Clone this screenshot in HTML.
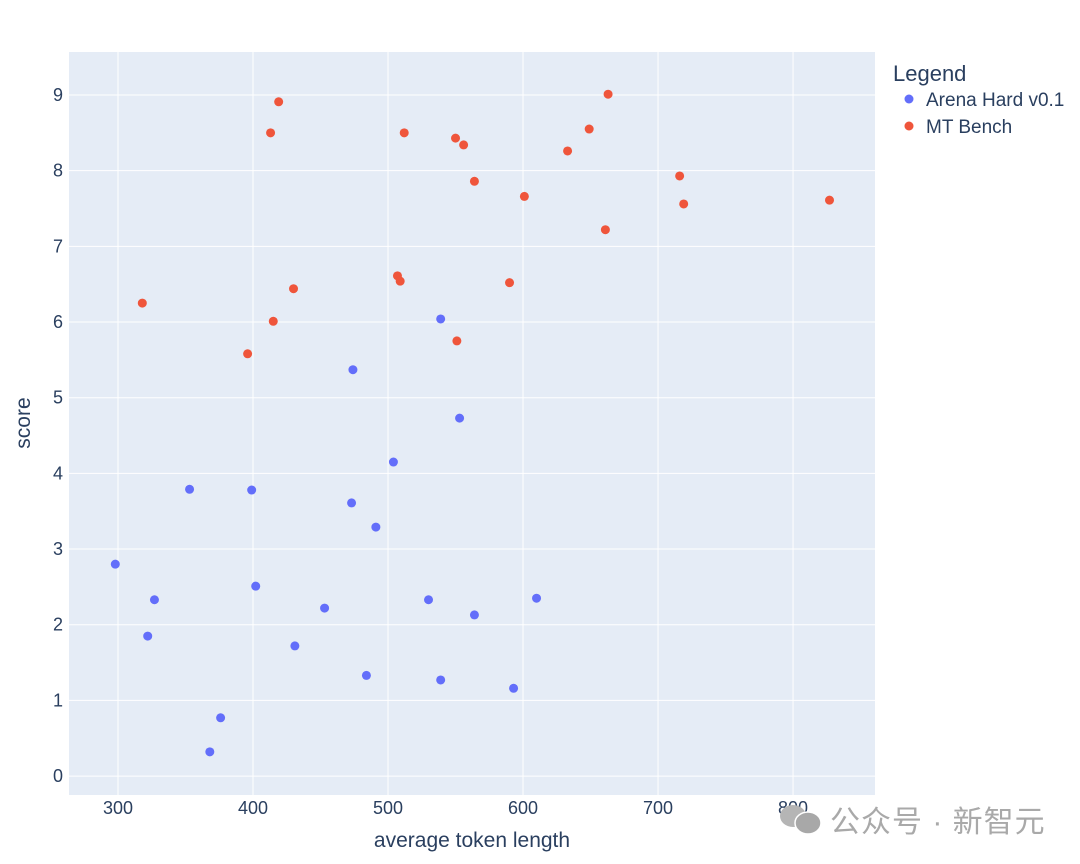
<!DOCTYPE html>
<html><head><meta charset="utf-8"><style>
body{margin:0;background:#fff;}
svg{display:block;font-family:"Liberation Sans","Noto Sans CJK SC",sans-serif;}
</style></head><body>
<svg id="chart" width="1080" height="864"></svg>
<script>
const blueX=[298,322,327,353,368,376,399,402,431,453,473,474,484,491,504,530,539,539,553,564,593,610];
const blueY=[2.80,1.85,2.33,3.79,0.32,0.77,3.78,2.51,1.72,2.22,3.61,5.37,1.33,3.29,4.15,2.33,6.04,1.27,4.73,2.13,1.16,2.35];
const redX=[318,396,413,415,419,430,507,509,512,550,551,556,564,590,601,633,649,661,663,716,719,827];
const redY=[6.25,5.58,8.50,6.01,8.91,6.44,6.61,6.54,8.50,8.43,5.75,8.34,7.86,6.52,7.66,8.26,8.55,7.22,9.01,7.93,7.56,7.61];
const xTicks=[300,400,500,600,700,800];
const yTicks=[0,1,2,3,4,5,6,7,8,9];
const L=69,R=875,T=52,B=795;
const xMin=263.7,xMax=860.7,yMin=-0.25,yMax=9.568;
const sx=v=>L+(v-xMin)/(xMax-xMin)*(R-L);
const sy=v=>B-(v-yMin)/(yMax-yMin)*(B-T);
const NS="http://www.w3.org/2000/svg";
const svg=document.getElementById('chart');
function mk(tag,attrs,txt){const e=document.createElementNS(NS,tag);for(const k in attrs)e.setAttribute(k,attrs[k]);if(txt!=null)e.textContent=txt;svg.appendChild(e);return e;}
let e=mk('rect',{x:L,y:T,width:R-L,height:B-T,fill:'#e5ecf6'});


xTicks.forEach(t=>{
  let g=mk('line',{x1:sx(t),x2:sx(t),y1:T,y2:B,stroke:'#fff','stroke-width':1});
  
  
  let l=mk('text',{x:sx(t),y:814,'text-anchor':'middle','font-size':18,fill:'#2a3f5f'},t);
  
  
});
yTicks.forEach(t=>{
  let g=mk('line',{x1:L,x2:R,y1:sy(t),y2:sy(t),stroke:'#fff','stroke-width':1});
  
  
  let l=mk('text',{x:63,y:sy(t)+6,'text-anchor':'end','font-size':18,fill:'#2a3f5f'},t);
  
  
});
function series(xs,ys,col,name){
  xs.forEach((v,i)=>{
    let c=mk('circle',{cx:sx(v),cy:sy(ys[i]),r:4.5,fill:col});
    
    
  });
}
series(blueX,blueY,'#636efa','arena-hard');
series(redX,redY,'#ef553b','mt-bench');
e=mk('text',{x:472,y:847,'text-anchor':'middle','font-size':21,fill:'#2a3f5f'},'average token length');


e=mk('text',{x:30,y:423,'text-anchor':'middle','font-size':21,fill:'#2a3f5f',transform:'rotate(-90 30 423)'},'score');


e=mk('text',{x:893,y:81,'font-size':22,fill:'#2a3f5f'},'Legend');


[['Arena Hard v0.1','#636efa',100],['MT Bench','#ef553b',127]].forEach(([n,c,y])=>{
  let d=mk('circle',{cx:909,cy:y-1,r:4.5,fill:c});
  
  
  let t=mk('text',{x:926,y:y+6,'font-size':19,fill:'#2a3f5f'},n);
  
  
});
e=mk('ellipse',{cx:793,cy:816,rx:13,ry:11,fill:'#b5b5b5'});


e=mk('ellipse',{cx:808,cy:823,rx:13,ry:11,fill:'#a8a8a8',stroke:'#fff','stroke-width':1.5});


e=mk('text',{x:830,y:832,'font-size':30,fill:'#a9a9a9','letter-spacing':1},'公众号 · 新智元');


</script>
</body></html>
